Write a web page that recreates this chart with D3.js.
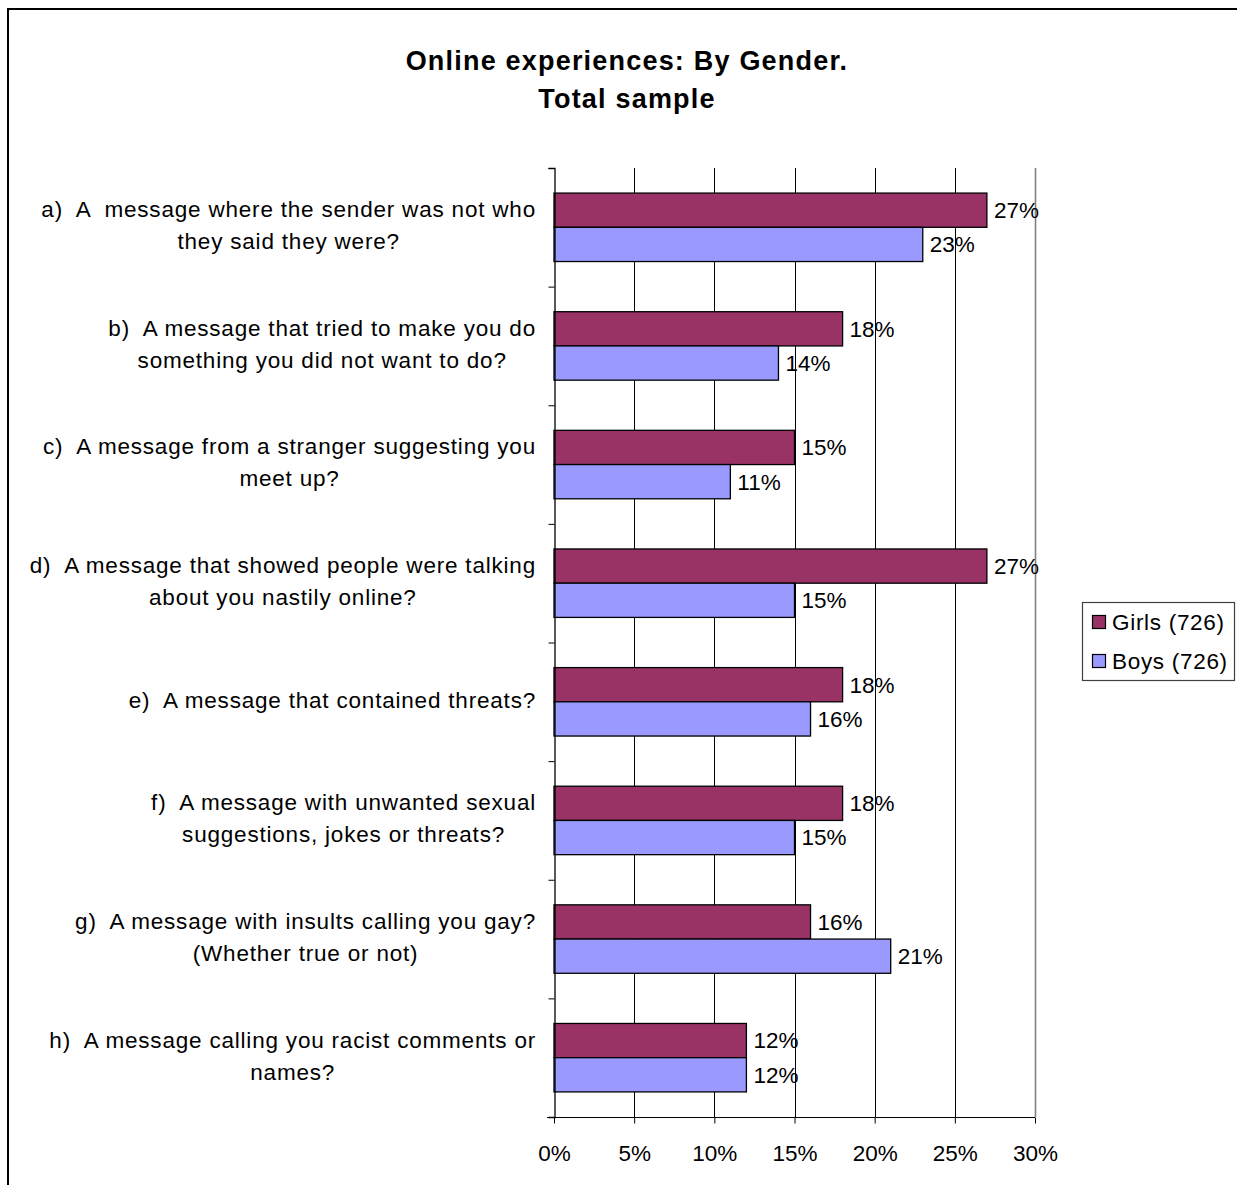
<!DOCTYPE html>
<html>
<head>
<meta charset="utf-8">
<script src="https://cdn.jsdelivr.net/npm/d3@7"></script>
<style>
  html, body { margin: 0; padding: 0; background: #fff; }
  svg { display: block; }
  text { font-family: "Liberation Sans", Arial, sans-serif; fill: #000; white-space: pre; }
</style>
</head>
<body>
<script>
// Survey questions (each entry holds the wrapped lines of the label)
const categories = ["a", "b", "c", "d", "e", "f", "g", "h"];
const categoryLines = [
  ["a)  A  message where the sender was not who", "they said they were?"],
  ["b)  A message that tried to make you do", "something you did not want to do?"],
  ["c)  A message from a stranger suggesting you", "meet up?"],
  ["d)  A message that showed people were talking", "about you nastily online?"],
  ["e)  A message that contained threats?"],
  ["f)  A message with unwanted sexual", "suggestions, jokes or threats?"],
  ["g)  A message with insults calling you gay?", "(Whether true or not)"],
  ["h)  A message calling you racist comments or", "names?"]
];
const seriesNames = ["Girls (726)", "Boys (726)"];
const girls = [0.27, 0.18, 0.15, 0.27, 0.18, 0.18, 0.16, 0.12];
const boys  = [0.23, 0.14, 0.11, 0.15, 0.16, 0.15, 0.21, 0.12];
const xTicks = [0, 0.05, 0.10, 0.15, 0.20, 0.25, 0.30];
const titleLines = ["Online experiences: By Gender.", "Total sample"];

const W = 1237, H = 1185;
const colors = ["#993366", "#9999FF"];
const fontSize = 22.5;

const svg = d3.select("body").append("svg").attr("width", W).attr("height", H);

// chart frame
svg.append("rect").attr("x", 8).attr("y", 9).attr("width", W + 20).attr("height", H + 20)
  .attr("fill", "none").attr("stroke", "#000").attr("stroke-width", 2);

// title
svg.append("g").selectAll("text").data(titleLines).join("text")
  .attr("x", 627).attr("y", (d, i) => 70 + i * 38)
  .attr("text-anchor", "middle")
  .style("font-size", "27px").style("font-weight", "bold").style("letter-spacing", "1.2px")
  .text(d => d);

const plot = { left: 554, right: 1035, top: 168, bottom: 1117 };
const x = d3.scaleLinear().domain([0, 0.30]).range([plot.left, plot.right]);
const pad = 0.423;
const y = d3.scaleBand().domain(categories).range([plot.top, plot.bottom])
  .paddingInner(pad).paddingOuter(pad / 2);
const ySub = d3.scaleBand().domain([0, 1]).range([0, y.bandwidth()]);
const slot = d3.scaleLinear().domain([0, categories.length]).range([plot.top, plot.bottom]);

// vertical gridlines
svg.append("g").selectAll("line").data(xTicks.slice(1)).join("line")
  .attr("x1", d => Math.round(x(d)) + 0.5).attr("x2", d => Math.round(x(d)) + 0.5)
  .attr("y1", plot.top).attr("y2", plot.bottom)
  .attr("stroke", (d, i, a) => i === a.length - 1 ? "#808080" : "#000")
  .attr("stroke-width", (d, i, a) => i === a.length - 1 ? 1.6 : 1);

// bars
const series = [girls, boys];
const bars = svg.append("g");
series.forEach((vals, s) => {
  bars.selectAll(null).data(vals).join("rect")
    .attr("x", x(0))
    .attr("y", (d, i) => y(categories[i]) + ySub(s))
    .attr("width", d => x(d) - x(0))
    .attr("height", ySub.bandwidth())
    .attr("fill", colors[s]).attr("stroke", "#000").attr("stroke-width", 1.3);
});

// value labels
series.forEach((vals, s) => {
  svg.append("g").selectAll("text").data(vals).join("text")
    .attr("x", d => x(d) + 7)
    .attr("y", (d, i) => y(categories[i]) + ySub(s) + ySub.bandwidth() / 2)
    .attr("dy", "0.35em")
    .style("font-size", fontSize + "px")
    .text(d => d3.format(".0%")(d));
});

// category axis (ticks at slot boundaries)
const yAxis = svg.append("g").attr("transform", `translate(${plot.left + 0.5},0)`)
  .call(d3.axisLeft(slot).tickValues(d3.range(categories.length + 1)).tickSize(6).tickFormat(""));
yAxis.select(".domain").attr("stroke", "#000").attr("stroke-width", 1.3);
yAxis.selectAll(".tick line").attr("stroke", "#000");

// value axis
const xAxis = svg.append("g").attr("transform", `translate(0,${plot.bottom + 0.5})`)
  .call(d3.axisBottom(x).tickValues(xTicks).tickFormat(d3.format(".0%")).tickSize(6).tickSizeOuter(0));
xAxis.select(".domain").attr("stroke", "#000").attr("d", `M${plot.left - 7},0H${plot.right}`);
xAxis.selectAll(".tick line").attr("stroke", "#000");
xAxis.selectAll(".tick text").attr("y", 36).attr("dy", "0.35em")
  .style("font-size", fontSize + "px").style("font-family", "'Liberation Sans', Arial, sans-serif");

// category labels: block right-aligned to the axis, lines centred within the block
const labelRight = 536;
const lineH = 32;
categoryLines.forEach((lines, i) => {
  const g = svg.append("g");
  const cy = slot(i + 0.5) - 2;
  const texts = g.selectAll("text").data(lines).join("text")
    .attr("y", (d, j) => cy + (j - (lines.length - 1) / 2) * lineH)
    .attr("dy", "0.35em")
    .attr("text-anchor", "middle")
    .style("font-size", fontSize + "px")
    .style("letter-spacing", "0.8px")
    .text(d => d);
  let maxW = 0;
  texts.each(function () { maxW = Math.max(maxW, this.getComputedTextLength()); });
  texts.attr("x", labelRight - maxW / 2);
});

// legend
const legend = svg.append("g").attr("transform", "translate(1082,602)");
legend.append("rect").attr("x", 0.5).attr("y", 0.5).attr("width", 152).attr("height", 78)
  .attr("fill", "#fff").attr("stroke", "#404040").attr("stroke-width", 1.2);
const items = legend.selectAll("g.item").data(seriesNames).join("g")
  .attr("transform", (d, i) => `translate(0,${20 + i * 39})`);
items.append("rect").attr("x", 10.5).attr("y", -6.5).attr("width", 13).attr("height", 13)
  .attr("fill", (d, i) => colors[i]).attr("stroke", "#000").attr("stroke-width", 1.2);
items.append("text").attr("x", 30).attr("dy", "0.35em")
  .style("font-size", fontSize + "px").style("letter-spacing", "0.7px").text(d => d);
</script>
</body>
</html>
